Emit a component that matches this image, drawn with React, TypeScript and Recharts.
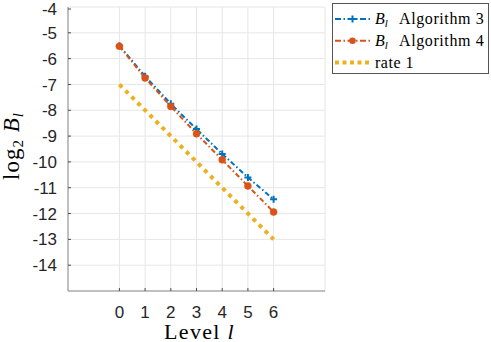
import React from 'react';
import { CartesianGrid, Label, Legend, Line, LineChart, XAxis, YAxis } from 'recharts';

const levels = [0, 1, 2, 3, 4, 5, 6];
const alg3Log2B = [-5.5, -6.68, -7.75, -8.73, -9.69, -10.6, -11.45];
const alg4Log2B = [-5.52, -6.75, -7.85, -8.91, -9.92, -10.93, -11.94];
const rateLevels = [0, 6];
const rateLog2B = [-7, -13];

const xTicks = [0, 1, 2, 3, 4, 5, 6];
const yTicks = [-14, -13, -12, -11, -10, -9, -8, -7, -6, -5, -4];
const xDomain = [-2, 8];
const yDomain = [-15, -4];

const algData = levels.map((level, i) => ({ level, alg3: alg3Log2B[i], alg4: alg4Log2B[i] }));
const rateData = rateLevels.map((level, i) => ({ level, rate: rateLog2B[i] }));

const BLUE = '#0072BD';
const ORANGE = '#D95319';
const YELLOW = '#EDB120';
const FRAME = '#8c8c8c';
const TICK_COLOR = '#4d4d4d';
const TEXT = '#262626';
const TICK_LEN = 3;
const SANS = '"Liberation Sans", Arial, sans-serif';
const SERIF = '"Liberation Serif", "Times New Roman", serif';

const DASH_DOT = '5 2.5 1.5 2.5';
const RATE_DASH = '4 4.6';

const legendRows = [
  { key: 'alg3', label: 'Algorithm 3', color: BLUE, marker: 'plus' },
  { key: 'alg4', label: 'Algorithm 4', color: ORANGE, marker: 'circle' },
  { key: 'rate', label: 'rate 1', color: YELLOW, marker: 'none' },
];

function BottomTick({ x, y, payload }: any) {
  return (
    <g>
      <line x1={x} y1={y} x2={x} y2={y - TICK_LEN} stroke={TICK_COLOR} />
      <text x={x} y={y + 27} textAnchor="middle" fill={TEXT} fontSize={17} fontFamily={SANS}>
        {payload.value}
      </text>
    </g>
  );
}

function LeftTick({ x, y, payload }: any) {
  return (
    <g>
      <line x1={x} y1={y} x2={x + TICK_LEN} y2={y} stroke={TICK_COLOR} />
      <text x={x - 11} y={y} dy="0.36em" textAnchor="end" fill={TEXT} fontSize={17} fontFamily={SANS}>
        {payload.value}
      </text>
    </g>
  );
}

function TopTick({ x, y }: any) {
  return <line x1={x} y1={y} x2={x} y2={y + TICK_LEN} stroke={TICK_COLOR} />;
}

function RightTick({ x, y }: any) {
  return <line x1={x} y1={y} x2={x - TICK_LEN} y2={y} stroke={TICK_COLOR} />;
}

function PlusDot({ cx, cy }: any) {
  if (cx == null || cy == null) return null;
  return (
    <path
      d={`M${cx - 3.5},${cy}H${cx + 3.5}M${cx},${cy - 3.5}V${cy + 3.5}`}
      stroke={BLUE}
      strokeWidth={2}
      fill="none"
    />
  );
}

function LegendBox() {
  return (
    <div
      style={{
        width: 157,
        height: 71,
        boxSizing: 'border-box',
        border: '1px solid #555',
        background: '#fff',
      }}
    >
      <svg width={155} height={69} style={{ display: 'block' }}>
        {legendRows.map((row, i) => {
          const cy = 15 + i * 21.75;
          const isRate = row.key === 'rate';
          return (
            <g key={row.key}>
              <line
                x1={2}
                y1={cy}
                x2={37}
                y2={cy}
                stroke={row.color}
                strokeWidth={isRate ? 4 : 2}
                strokeDasharray={isRate ? '4 3.5' : '6 2.5 1.5 2.5'}
              />
              {row.marker === 'plus' && (
                <path d={`M16,${cy}H23M19.5,${cy - 3.5}V${cy + 3.5}`} stroke={row.color} strokeWidth={2} />
              )}
              {row.marker === 'circle' && <circle cx={19.5} cy={cy} r={3.3} fill={row.color} />}
              <text y={cy + 5} fill="#000" fontSize={16} fontFamily={SERIF}>
                {isRate ? (
                  <tspan x={42} letterSpacing={0.5}>
                    {row.label}
                  </tspan>
                ) : (
                  <>
                    <tspan x={42} fontStyle="italic">
                      B
                    </tspan>
                    <tspan fontStyle="italic" fontSize={11} dy={3}>
                      l
                    </tspan>
                    <tspan x={66} dy={-3} letterSpacing={0.6}>
                      {row.label}
                    </tspan>
                  </>
                )}
              </text>
            </g>
          );
        })}
      </svg>
    </div>
  );
}

function YLabel({ viewBox }: any) {
  const cx = 19;
  const cy = viewBox.y + viewBox.height / 2 - 3;
  return (
    <text
      x={cx}
      y={cy}
      transform={`rotate(-90, ${cx}, ${cy})`}
      textAnchor="middle"
      fill="#000"
      fontSize={23}
      fontFamily={SERIF}
      letterSpacing={1}
    >
      log
      <tspan fontSize={15} dy={4}>
        2
      </tspan>
      <tspan dy={-4}> </tspan>
      <tspan fontStyle="italic">B</tspan>
      <tspan fontStyle="italic" fontSize={15} dy={4}>
        l
      </tspan>
    </text>
  );
}

function XLabel({ viewBox }: any) {
  const cx = viewBox.x + viewBox.width / 2 + 3;
  const cy = viewBox.y + 47.5;
  return (
    <text x={cx} y={cy} textAnchor="middle" fill="#000" fontSize={22} fontFamily={SERIF} letterSpacing={1.3}>
      Level <tspan fontStyle="italic">l</tspan>
    </text>
  );
}

export default function App() {
  return (
    <div style={{ position: 'absolute', left: 0, top: 0, width: 491, height: 342, background: '#fff' }}>
      <LineChart width={491} height={342} margin={{ top: 7, right: 166, bottom: 0, left: 0 }}>
        <CartesianGrid stroke="#e6e6e6" />
        <XAxis
          dataKey="level"
          type="number"
          domain={xDomain}
          ticks={xTicks}
          allowDataOverflow
          height={51}
          tickSize={0}
          tickMargin={0}
          tickLine={false}
          axisLine={{ stroke: FRAME }}
          tick={<BottomTick />}
        >
          <Label content={<XLabel />} />
        </XAxis>
        <XAxis
          xAxisId="top"
          orientation="top"
          type="number"
          domain={xDomain}
          ticks={xTicks}
          allowDataOverflow
          height={0}
          tickSize={0}
          tickMargin={0}
          tickLine={false}
          axisLine={{ stroke: FRAME }}
          tick={<TopTick />}
        />
        <YAxis
          type="number"
          domain={yDomain}
          ticks={yTicks}
          allowDataOverflow
          width={68}
          tickSize={0}
          tickMargin={0}
          tickLine={false}
          axisLine={{ stroke: FRAME }}
          tick={<LeftTick />}
        >
          <Label content={<YLabel />} />
        </YAxis>
        <YAxis
          yAxisId="right"
          orientation="right"
          type="number"
          domain={yDomain}
          ticks={yTicks}
          allowDataOverflow
          width={0}
          tickSize={0}
          tickMargin={0}
          tickLine={false}
          axisLine={{ stroke: FRAME }}
          tick={<RightTick />}
        />
        <Legend
          layout="horizontal"
          verticalAlign="middle"
          align="center"
          wrapperStyle={{ left: 332, top: 3, width: 157, height: 71 }}
          content={<LegendBox />}
        />
        <Line
          data={algData}
          dataKey="alg3"
          name="alg3"
          stroke={BLUE}
          strokeWidth={2}
          strokeDasharray={DASH_DOT}
          dot={(p: any) => <PlusDot key={`p-${p.index}`} {...p} />}
          isAnimationActive={false}
        />
        <Line
          data={algData}
          dataKey="alg4"
          name="alg4"
          stroke={ORANGE}
          strokeWidth={2}
          strokeDasharray={DASH_DOT}
          dot={{ r: 3.5, fill: ORANGE, stroke: ORANGE, strokeWidth: 0.5, strokeDasharray: 'none' }}
          isAnimationActive={false}
        />
        <Line
          data={rateData}
          dataKey="rate"
          name="rate"
          stroke={YELLOW}
          strokeWidth={4}
          strokeDasharray={RATE_DASH}
          dot={false}
          isAnimationActive={false}
        />
      </LineChart>
    </div>
  );
}
